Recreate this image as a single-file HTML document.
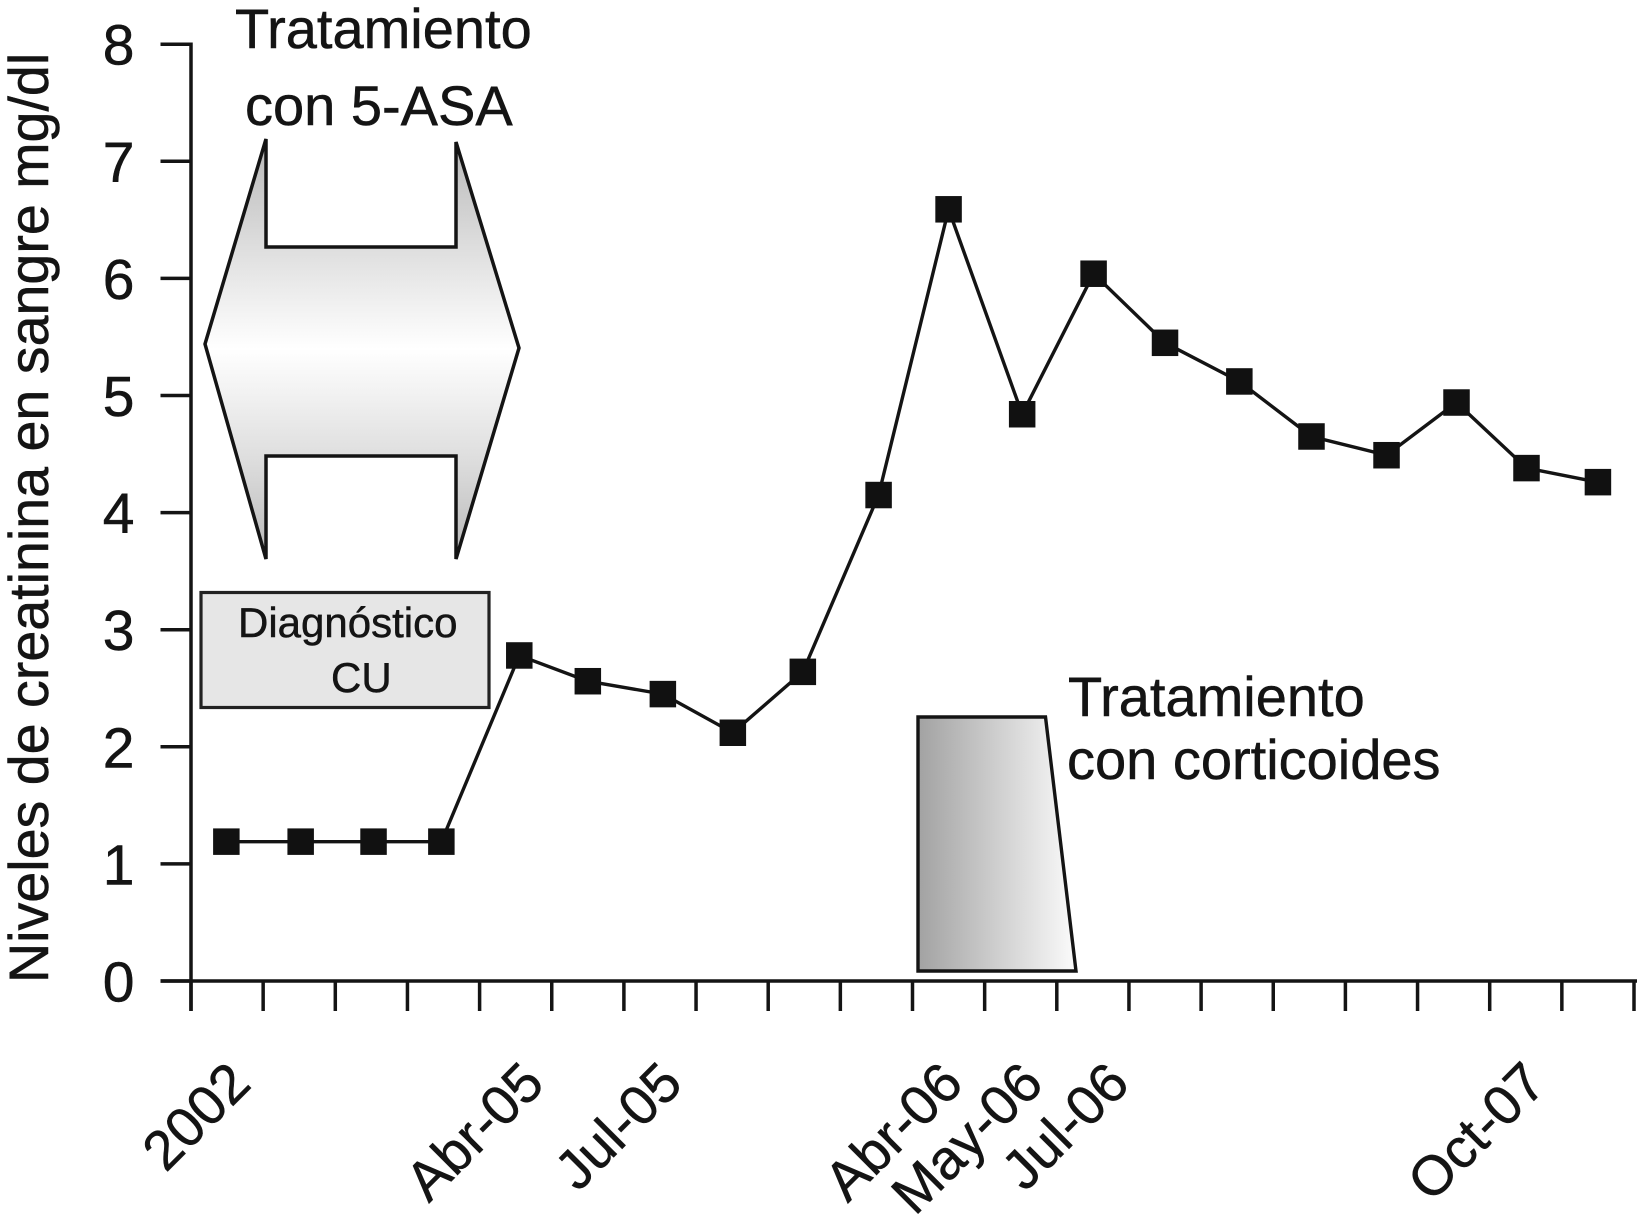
<!DOCTYPE html>
<html lang="es">
<head>
<meta charset="utf-8">
<title>Niveles de creatinina en sangre</title>
<style>
  html, body { margin: 0; padding: 0; background: #fff; }
  svg { display: block; }
  text { font-family: "Liberation Sans", Arial, sans-serif; fill: #141414; stroke: #141414; stroke-width: 0.5px; }
</style>
</head>
<body>
<svg id="chart" xmlns="http://www.w3.org/2000/svg" width="1637" height="1225" viewBox="0 0 1637 1225">
  <defs>
    <linearGradient id="arrowFill" x1="0" y1="139" x2="0" y2="559" gradientUnits="userSpaceOnUse">
      <stop offset="0" stop-color="#b8b8b8"/>
      <stop offset="0.26" stop-color="#dedede"/>
      <stop offset="0.5" stop-color="#ffffff"/>
      <stop offset="0.76" stop-color="#dedede"/>
      <stop offset="1" stop-color="#b8b8b8"/>
    </linearGradient>
    <linearGradient id="steroidFill" x1="918" y1="0" x2="1076" y2="0" gradientUnits="userSpaceOnUse">
      <stop offset="0" stop-color="#a2a2a2"/>
      <stop offset="1" stop-color="#fbfbfb"/>
    </linearGradient>
  </defs>
  <rect x="0" y="0" width="1637" height="1225" fill="#ffffff"/>

  <polygon points="266,139 266,247 456,247 456,142 519,348 456,559 456,456 266,456 266,559 205,344" fill="url(#arrowFill)" stroke="#141414" stroke-width="3.5" stroke-linejoin="miter" stroke-miterlimit="3"/>
  <text x="235" y="48" font-size="56">Tratamiento</text>
  <text x="245" y="125" font-size="56">con 5-ASA</text>

  <rect x="201" y="592.5" width="288" height="115" fill="#e6e6e6" stroke="#222222" stroke-width="3.2"/>
  <text x="238" y="637" font-size="42">Diagnóstico</text>
  <text x="331" y="692" font-size="42">CU</text>

  <polygon points="918,717 1045.5,717 1076,971 918,971" fill="url(#steroidFill)" stroke="#141414" stroke-width="3.4"/>
  <text x="1068" y="716" font-size="56">Tratamiento</text>
  <text x="1067" y="779" font-size="56">con corticoides</text>

  <text transform="translate(48 983) rotate(-90)" font-size="55.6">Niveles de creatinina en sangre mg/dl</text>

  <g id="axes"></g>
  <g id="series"></g>
</svg>

<script>
const categories = ["2002-a","2002-b","2002-c","2002-d","Abr-05","May-05","Jul-05","Oct-05","Ene-06","Mar-06","Abr-06","May-06","Jul-06","Sep-06","Dic-06","Mar-07","May-07","Jul-07","Oct-07","Dic-07"];
const samplePositions = [0.49,1.52,2.53,3.47,4.55,5.50,6.54,7.51,8.48,9.53,10.50,11.52,12.51,13.50,14.53,15.53,16.57,17.54,18.51,19.50];
const creatinine = [1.19,1.19,1.19,1.19,2.78,2.56,2.45,2.12,2.64,4.15,6.59,4.84,6.04,5.45,5.12,4.65,4.49,4.94,4.38,4.26];
const yTickValues = [0,1,2,3,4,5,6,7,8];
const xTickLabels = ["2002","","","","Abr-05","","Jul-05","","","","Abr-06","May-06","Jul-06","","","","","","Oct-07",""];

// Layout constants
const SVG_NS = "http://www.w3.org/2000/svg";
const plotLeft = 191, plotRight = 1634, plotBottom = 981, plotTop = 44.2, yMax = 8;
const bandWidth = (plotRight - plotLeft) / categories.length;
const xScale = p => plotLeft + bandWidth * p;
const yScale = v => plotBottom - (v / yMax) * (plotBottom - plotTop);
// Hand-placed label shift from band centre, as in the original figure
const labelShift = { "2002": 26, "Abr-05": 31, "Jul-05": 25, "Abr-06": 17, "May-06": 25, "Jul-06": 39, "Oct-07": 23 };
const labelBaselineY = 1086;
const ink = "#141414";
const axisWidth = 3.5;

function svgEl(tag, attrs, parent) {
  const el = document.createElementNS(SVG_NS, tag);
  for (const k in attrs) el.setAttribute(k, attrs[k]);
  parent.appendChild(el);
  return el;
}

const axes = document.getElementById("axes");
const series = document.getElementById("series");

const yAxisLine = svgEl("line", { x1: plotLeft, y1: plotTop - 1.75, x2: plotLeft, y2: plotBottom + 30, stroke: ink, "stroke-width": axisWidth }, axes);



const xAxisLine = svgEl("line", { x1: 160.5, y1: plotBottom, x2: 1637, y2: plotBottom, stroke: ink, "stroke-width": axisWidth }, axes);



yTickValues.forEach(v => {
  const y = yScale(v);
  const tick = svgEl("line", { x1: 160.5, y1: y, x2: plotLeft, y2: y, stroke: ink, "stroke-width": axisWidth }, axes);
  
  
  const label = svgEl("text", { x: 134.5, y: y + 20.5, "font-size": 57, "text-anchor": "end" }, axes);
  label.textContent = String(v);
  
  
});

for (let i = 0; i <= categories.length; i++) {
  const x = xScale(i);
  const tick = svgEl("line", { x1: x, y1: plotBottom, x2: x, y2: plotBottom + 30, stroke: ink, "stroke-width": axisWidth }, axes);
  
  
}

xTickLabels.forEach((text, i) => {
  if (!text) return;
  const ax = xScale(i + 0.5) + (labelShift[text] || 0);
  const label = svgEl("text", { x: ax, y: labelBaselineY, "font-size": 55.5, "text-anchor": "end", transform: "rotate(-45 " + ax + " " + labelBaselineY + ")" }, axes);
  label.textContent = text;
  
  
});

const linePoints = creatinine.map((v, i) => xScale(samplePositions[i]).toFixed(1) + "," + yScale(v).toFixed(1)).join(" ");
const seriesLine = svgEl("polyline", { points: linePoints, fill: "none", stroke: ink, "stroke-width": 3.4, "stroke-linejoin": "miter" }, series);



const markerSize = 26.5;
creatinine.forEach((v, i) => {
  const marker = svgEl("rect", { x: xScale(samplePositions[i]) - markerSize / 2, y: yScale(v) - markerSize / 2, width: markerSize, height: markerSize, fill: "#111111" }, series);
  
  
});
</script>
</body>
</html>
